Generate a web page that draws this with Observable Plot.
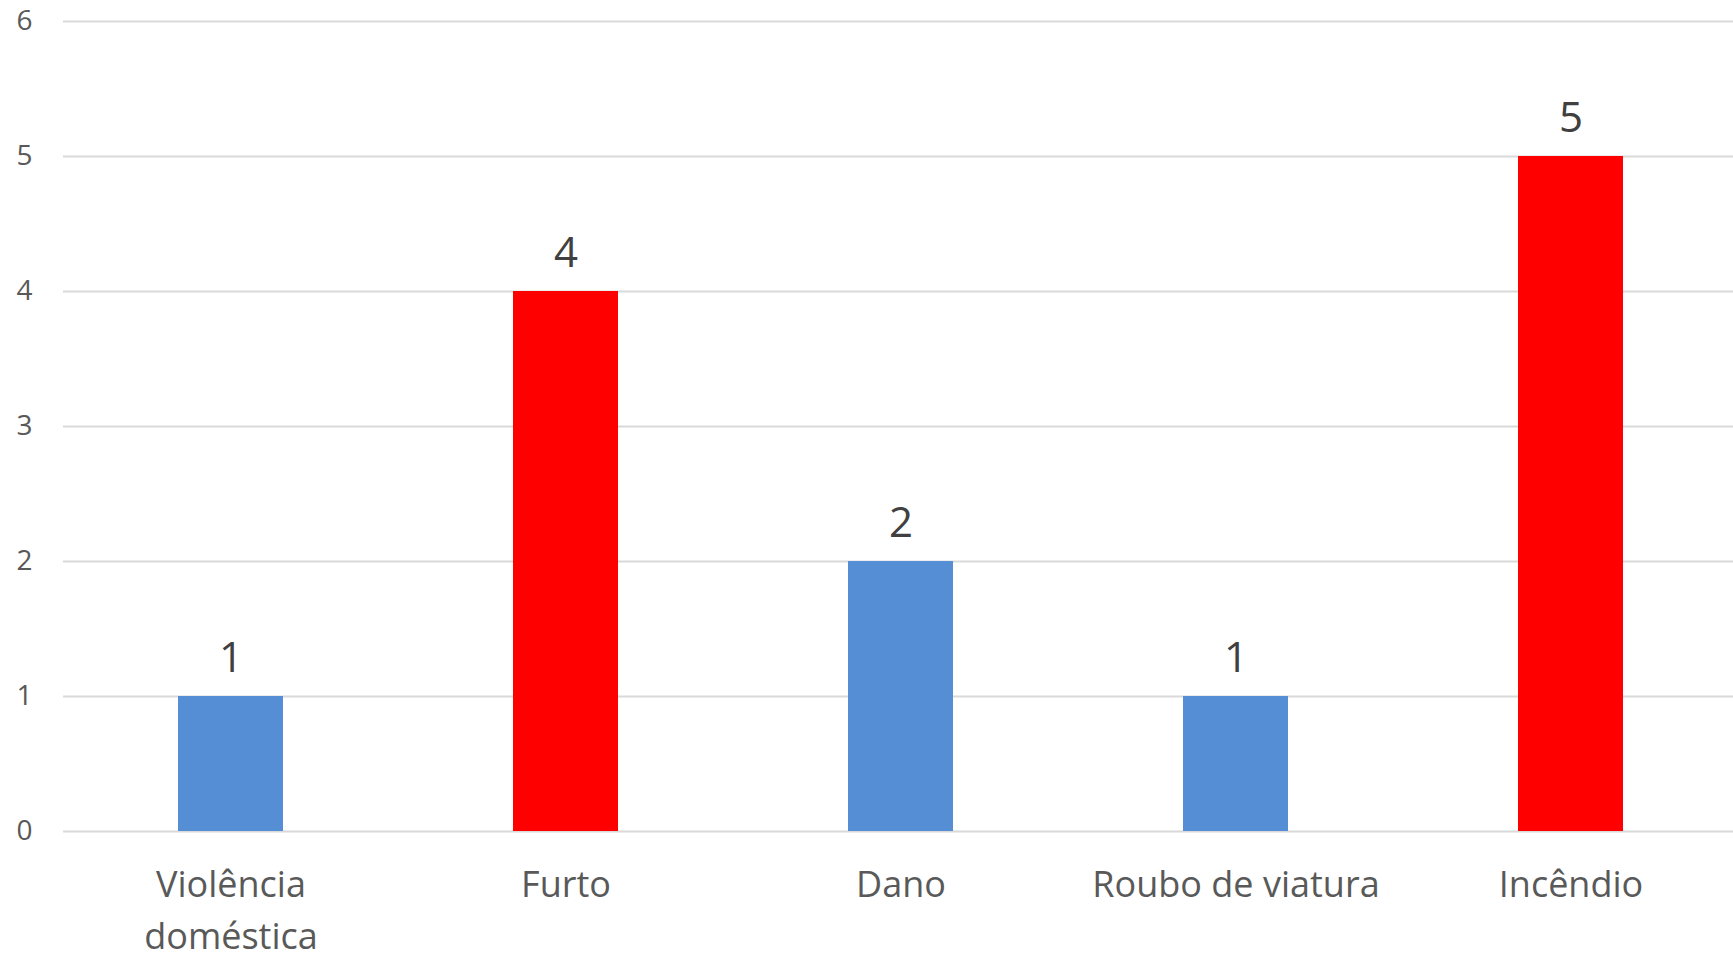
<!DOCTYPE html>
<html>
<head>
<meta charset="utf-8">
<script src="https://cdn.jsdelivr.net/npm/d3@7"></script>
<script src="https://cdn.jsdelivr.net/npm/@observablehq/plot@0.6"></script>
<style>
  html, body { margin: 0; padding: 0; background: #fff; }
  #chart svg { display: block; }
</style>
</head>
<body>
<div id="chart"></div>
<script>
const categories = ["Violência doméstica", "Furto", "Dano", "Roubo de viatura", "Incêndio"];
const values = [1, 4, 2, 1, 5];
const barColors = ["#558ED5", "#FF0000", "#558ED5", "#558ED5", "#FF0000"];
const tickLabels = ["Violência\ndoméstica", "Furto", "Dano", "Roubo de viatura", "Incêndio"];
const yTicks = [0, 1, 2, 3, 4, 5, 6];

const data = categories.map((c, i) => ({cat: c, value: values[i], color: barColors[i]}));

const chart = Plot.plot({
  width: 1733,
  height: 955,
  marginLeft: 63,
  marginRight: 0,
  marginTop: 21,
  marginBottom: 124,
  style: {fontFamily: "'Open Sans', sans-serif", background: "#fff"},
  x: {domain: categories, paddingInner: 0.686, paddingOuter: 0.343, range: [62, 1740], axis: null},
  y: {domain: [0, 6], axis: null},
  color: {type: "identity"},
  marks: [
    Plot.gridY(yTicks, {stroke: "#d9d9d9", strokeOpacity: 1, strokeWidth: 2}),
    Plot.barY(data, {x: "cat", y: "value", fill: "color"}),
    Plot.text(data, {x: "cat", y: "value", text: d => String(d.value), dy: -38, fontSize: 42, fill: "#404040"}),
    Plot.axisY({ticks: yTicks, tickSize: 0, tickPadding: 31, fontSize: 28, fill: "#595959", label: null,
      tickFormat: d => String(d)}),
    Plot.axisX({tickSize: 0, tickPadding: 29, fontSize: 36, fill: "#595959", label: null, lineHeight: 1.43,
      tickFormat: d => tickLabels[categories.indexOf(d)]})
  ]
});
document.getElementById("chart").appendChild(chart);
</script>
</body>
</html>
